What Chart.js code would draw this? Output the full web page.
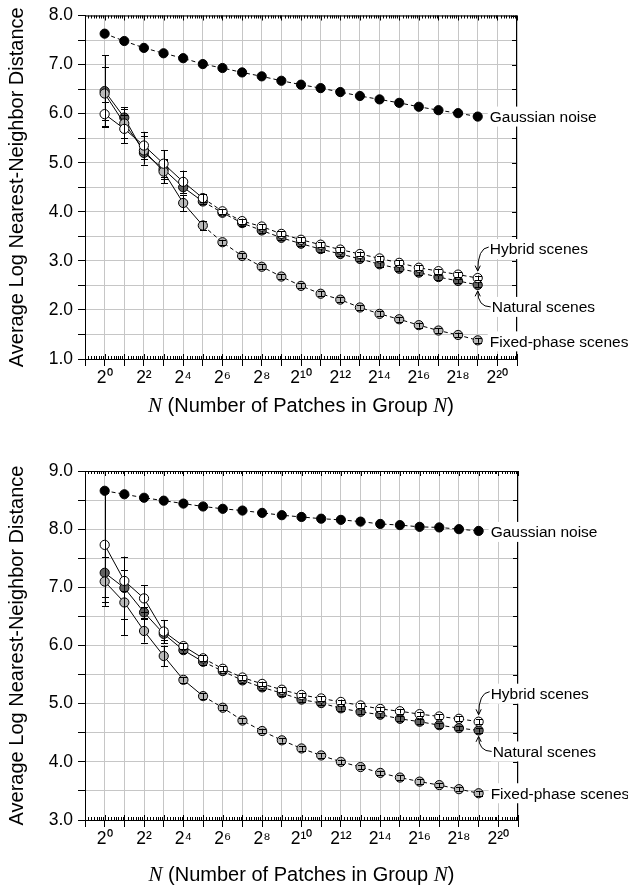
<!DOCTYPE html>
<html><head><meta charset="utf-8">
<script src="https://cdn.jsdelivr.net/npm/chart.js@4.4.0/dist/chart.umd.min.js"></script>
<style>
html,body{margin:0;padding:0;background:#fff;width:628px;height:889px;overflow:hidden;}
.box{position:absolute;left:0;width:628px;}
canvas{display:block;}
</style></head><body>
<div class="box" style="top:0;height:430px"><canvas id="c1" width="628" height="430"></canvas></div>
<div class="box" style="top:440px;height:449px"><canvas id="c2" width="628" height="449"></canvas></div>
<script>
// ---------- DATA ----------
const patchCounts = [1,2,4,8,16,32,64,128,256,512,1024,2048,4096,8192,16384,32768,65536,131072,262144,524288];
const xTickExponents = [-1,0,1,2,3,4,5,6,7,8,9,10,11,12,13,14,15,16,17,18,19,20,21];
const xTickLabels = ['', '2\u2070', '', '2\u00B2', '', '2\u2074', '', '2\u2076', '', '2\u2078', '', '2\u00B9\u2070', '', '2\u00B9\u00B2', '', '2\u00B9\u2074', '', '2\u00B9\u2076', '', '2\u00B9\u2078', '', '2\u00B2\u2070', ''];
const seriesNames = ['Gaussian noise', 'Natural scenes', 'Fixed-phase scenes', 'Hybrid scenes'];

// top panel
const yTickLabelsTop = ['1.0','2.0','3.0','4.0','5.0','6.0','7.0','8.0'];
const gaussianTop = [7.63,7.48,7.34,7.23,7.13,7.01,6.93,6.84,6.76,6.67,6.59,6.52,6.44,6.36,6.29,6.22,6.14,6.07,6.01,5.94];
const naturalTop  = [6.46,5.92,5.20,4.87,4.50,4.21,3.98,3.77,3.62,3.47,3.35,3.24,3.14,3.04,2.93,2.84,2.76,2.67,2.59,2.51];
const fixedTop    = [6.41,5.80,5.25,4.82,4.18,3.72,3.38,3.10,2.88,2.68,2.49,2.33,2.21,2.05,1.92,1.81,1.69,1.58,1.49,1.38];
const hybridTop   = [5.99,5.69,5.35,4.98,4.61,4.28,4.01,3.81,3.70,3.55,3.43,3.33,3.23,3.14,3.05,2.96,2.86,2.79,2.72,2.65];
const naturalTopErr = [0.73,0.21,0.13,0.20,0.12,0.06,0.05,0.05,0.05,0.05,0.05,0.05,0.05,0.05,0.05,0.05,0.05,0.05,0.05,0.05];
const fixedTopErr   = [0.54,0.30,0.29,0.24,0.17,0.10,0.05,0.05,0.05,0.05,0.05,0.05,0.05,0.05,0.05,0.05,0.05,0.05,0.05,0.05];
const hybridTopErr  = [0.24,0.29,0.28,0.28,0.23,0.08,0.05,0.05,0.05,0.05,0.05,0.05,0.05,0.05,0.05,0.05,0.05,0.05,0.05,0.05];

// bottom panel
const yTickLabelsBottom = ['3.0','4.0','5.0','6.0','7.0','8.0','9.0'];
const gaussianBottom = [8.66,8.60,8.54,8.49,8.44,8.39,8.35,8.32,8.28,8.24,8.21,8.18,8.16,8.13,8.09,8.07,8.04,8.03,8.00,7.97];
const naturalBottom  = [7.25,6.99,6.57,6.20,5.92,5.72,5.56,5.40,5.28,5.18,5.07,5.01,4.92,4.86,4.81,4.74,4.69,4.63,4.58,4.54];
const fixedBottom    = [7.10,6.74,6.25,5.82,5.41,5.13,4.93,4.71,4.53,4.37,4.23,4.11,4.00,3.91,3.81,3.73,3.66,3.60,3.53,3.46];
const hybridBottom   = [7.73,7.11,6.81,6.24,5.99,5.78,5.60,5.45,5.34,5.24,5.15,5.09,5.03,4.97,4.91,4.87,4.82,4.78,4.74,4.69];
const naturalBottomErr = [0.50,0.54,0.10,0.10,0.05,0.05,0.04,0.04,0.04,0.04,0.04,0.04,0.04,0.04,0.04,0.04,0.04,0.04,0.04,0.04];
const fixedBottomErr   = [0.42,0.56,0.20,0.18,0.05,0.05,0.04,0.04,0.04,0.04,0.04,0.04,0.04,0.04,0.04,0.04,0.04,0.04,0.04,0.04];
const hybridBottomErr  = [0.89,0.18,0.23,0.20,0.05,0.05,0.04,0.04,0.04,0.04,0.04,0.04,0.04,0.04,0.04,0.04,0.04,0.04,0.04,0.04];

// ---------- STYLE ----------
const SANS = "'Liberation Sans', Arial, Helvetica, sans-serif";
const SERIF = "'Liberation Serif', 'Times New Roman', serif";
Chart.defaults.font.family = SANS;
Chart.defaults.color = '#000';
const GRID = '#c6c6c6';

function pts(vals){ return vals.map((v,i)=>({x: patchCounts[i], y: v})); }

function series(name, vals, errs, fill, order, dashFrom){
  return {
    label: name, data: pts(vals), errors: errs, order: order,
    borderColor: '#000', borderWidth: 1, tension: 0,
    pointRadius: 4.6, pointHoverRadius: 4.6, pointBorderWidth: 1,
    pointBorderColor: '#000', pointBackgroundColor: fill,
    borderDash: dashFrom === 0 ? [4,3] : [],
    segment: { borderDash: ctx => (ctx.p0DataIndex >= dashFrom ? [4,3] : []) }
  };
}

function drawArrow(ctx, x0, y0, cx, cy, x1, y1){
  ctx.beginPath(); ctx.moveTo(x0,y0); ctx.quadraticCurveTo(cx,cy,x1,y1); ctx.stroke();
  const ang = Math.atan2(y1-cy, x1-cx), L = 6, s = 0.45;
  ctx.beginPath();
  ctx.moveTo(x1 - L*Math.cos(ang - s), y1 - L*Math.sin(ang - s));
  ctx.lineTo(x1, y1);
  ctx.lineTo(x1 - L*Math.cos(ang + s), y1 - L*Math.sin(ang + s));
  ctx.stroke();
}

const deco = {
  id: 'deco',
  afterDatasetDraw(chart, args){
    const ds = chart.data.datasets[args.index];
    if (!ds.errors) return;
    const {ctx, scales:{x,y}} = chart;
    ctx.save(); ctx.strokeStyle = '#000'; ctx.lineWidth = 1;
    ctx.beginPath();
    ds.data.forEach((p,i)=>{
      const e = ds.errors[i]; if (!e) return;
      const px = Math.round(x.getPixelForValue(p.x)) + 0.5;
      const y1 = y.getPixelForValue(p.y + e), y2 = y.getPixelForValue(p.y - e);
      ctx.moveTo(px, y1); ctx.lineTo(px, y2);
      ctx.moveTo(px-3.5, Math.round(y1)+0.5); ctx.lineTo(px+3.5, Math.round(y1)+0.5);
      ctx.moveTo(px-3.5, Math.round(y2)+0.5); ctx.lineTo(px+3.5, Math.round(y2)+0.5);
    });
    ctx.stroke(); ctx.restore();
  },
  afterDraw(chart){
    const o = chart.options.plugins.deco;
    const {ctx, chartArea:a, scales:{x,y}} = chart;
    ctx.save();
    ctx.strokeStyle = '#000'; ctx.lineWidth = 1;
    ctx.beginPath();
    ctx.moveTo(a.left, a.top+0.5); ctx.lineTo(a.right, a.top+0.5);
    ctx.moveTo(Math.round(a.right)-0.5, a.top); ctx.lineTo(Math.round(a.right)-0.5, a.bottom);
    for (const k of xTickExponents){
      const px = Math.round(x.getPixelForValue(Math.pow(2,k))) + 0.5;
      ctx.moveTo(px, a.bottom); ctx.lineTo(px, a.bottom-5);
      ctx.moveTo(px, a.top); ctx.lineTo(px, a.top+5);
      if (k < 21) for (let i=1;i<8;i++){
        const pm = Math.round(x.getPixelForValue(Math.pow(2,k)*(1+i/8))) + 0.5;
        ctx.moveTo(pm, a.bottom); ctx.lineTo(pm, a.bottom-3);
        ctx.moveTo(pm, a.top); ctx.lineTo(pm, a.top+3);
      }
    }
    for (let v = y.min; v <= y.max + 1e-9; v += 0.5){
      const py = Math.round(y.getPixelForValue(v)) + 0.5;
      ctx.moveTo(a.right, py); ctx.lineTo(a.right-5, py);
    }
    ctx.stroke();

    // y title
    ctx.save();
    ctx.translate(17.5, (a.top + a.bottom)/2);
    ctx.rotate(-Math.PI/2);
    ctx.font = '20px ' + SANS; ctx.textAlign = 'center'; ctx.textBaseline = 'middle'; ctx.fillStyle = '#000';
    ctx.fillText('Average Log Nearest-Neighbor Distance', 0, 0);
    ctx.restore();

    // x title with mixed fonts
    const parts = [
      {t:'N', f:'italic 21px ' + SERIF},
      {t:' (Number of Patches in Group ', f:'20px ' + SANS},
      {t:'N', f:'italic 21px ' + SERIF},
      {t:')', f:'20px ' + SANS}
    ];
    let w = 0;
    parts.forEach(p=>{ ctx.font = p.f; p.w = ctx.measureText(p.t).width; w += p.w; });
    let tx = (a.left + a.right)/2 - w/2;
    const ty = a.bottom + o.xTitleOffset;
    ctx.textBaseline = 'middle'; ctx.textAlign = 'left'; ctx.fillStyle = '#000';
    parts.forEach(p=>{ ctx.font = p.f; ctx.fillText(p.t, tx, ty); tx += p.w; });

    // annotations
    ctx.font = '15.5px ' + SANS;
    const n = patchCounts.length - 1;
    o.labels.forEach(L=>{
      const ds = chart.data.datasets[L.ds];
      const px = x.getPixelForValue(ds.data[n].x), py = y.getPixelForValue(ds.data[n].y);
      const lx = px + L.dx, ly = py + L.dy;
      const tw = ctx.measureText(ds.label).width;
      ctx.fillStyle = '#fff';
      ctx.fillRect(lx - 2, ly - 10, tw + 6, 20);
      ctx.fillStyle = '#000'; ctx.textBaseline = 'middle'; ctx.textAlign = 'left';
      ctx.fillText(ds.label, lx, ly + 1);
      if (L.arrow === 'down') drawArrow(ctx, lx - 1, ly - 2, px, ly - 1, px, py - 7);
      if (L.arrow === 'up') drawArrow(ctx, lx - 1, ly, px, ly, px, py + 6);
    });
    ctx.restore();
  }
};

function makeChart(id, cfg){
  return new Chart(document.getElementById(id), {
    type: 'line',
    data: { datasets: [
      series(seriesNames[0], cfg.gaussian, null, '#000', 3, 0),
      series(seriesNames[1], cfg.natural, cfg.naturalErr, '#626262', 2, 5),
      series(seriesNames[2], cfg.fixed, cfg.fixedErr, '#b9b9b9', 1, 5),
      series(seriesNames[3], cfg.hybrid, cfg.hybridErr, '#ffffff', 0, 5)
    ]},
    options: {
      responsive: false, animation: false, devicePixelRatio: 1,
      layout: { padding: { left: 0, top: cfg.padTop, right: cfg.padRight, bottom: 0 } },
      plugins: {
        legend: {display:false}, tooltip: {enabled:false},
        deco: { xTitleOffset: cfg.xTitleOffset, labels: cfg.labels }
      },
      scales: {
        x: {
          type: 'logarithmic', min: 0.5, max: 2097152,
          afterFit: s => { s.height = cfg.xHeight; },
          afterBuildTicks: s => { s.ticks = xTickExponents.map(k => ({value: Math.pow(2,k)})); },
          ticks: {
            autoSkip: false, maxRotation: 0, minRotation: 0, padding: 2,
            font: {size: 17.5},
            callback: (v) => xTickLabels[Math.round(Math.log2(v)) - xTickExponents[0]]
          },
          grid: { color: GRID, lineWidth: 1, tickColor: '#000', tickLength: 7 },
          border: { color: '#000', width: 1 }
        },
        y: {
          type: 'linear', min: cfg.yMin, max: cfg.yMax,
          afterFit: s => { s.width = 85; },
          ticks: {
            stepSize: 0.5, padding: 5, font: {size: 17.5},
            callback: v => (Number.isInteger(v) ? cfg.yLabels[v - cfg.yMin] : '')
          },
          grid: { color: GRID, lineWidth: 1, tickColor: '#000', tickLength: 7 },
          border: { color: '#000', width: 1 }
        }
      }
    },
    plugins: [deco]
  });
}

makeChart('c1', {
  gaussian: gaussianTop, natural: naturalTop, fixed: fixedTop, hybrid: hybridTop,
  naturalErr: naturalTopErr, fixedErr: fixedTopErr, hybridErr: hybridTopErr,
  yMin: 1, yMax: 8, yLabels: yTickLabelsTop,
  padTop: 11, padRight: 111, xHeight: 71, xTitleOffset: 47,
  labels: [
    {ds:0, dx:12, dy:0},
    {ds:3, dx:12, dy:-29, arrow:'down'},
    {ds:1, dx:14, dy:22, arrow:'up'},
    {ds:2, dx:12, dy:1}
  ]
});
makeChart('c2', {
  gaussian: gaussianBottom, natural: naturalBottom, fixed: fixedBottom, hybrid: hybridBottom,
  naturalErr: naturalBottomErr, fixedErr: fixedBottomErr, hybridErr: hybridBottomErr,
  yMin: 3, yMax: 9, yLabels: yTickLabelsBottom,
  padTop: 31, padRight: 110, xHeight: 69, xTitleOffset: 55,
  labels: [
    {ds:0, dx:12, dy:1},
    {ds:3, dx:12, dy:-28, arrow:'down'},
    {ds:1, dx:14, dy:21, arrow:'up'},
    {ds:2, dx:12, dy:0}
  ]
});
</script>
</body></html>
